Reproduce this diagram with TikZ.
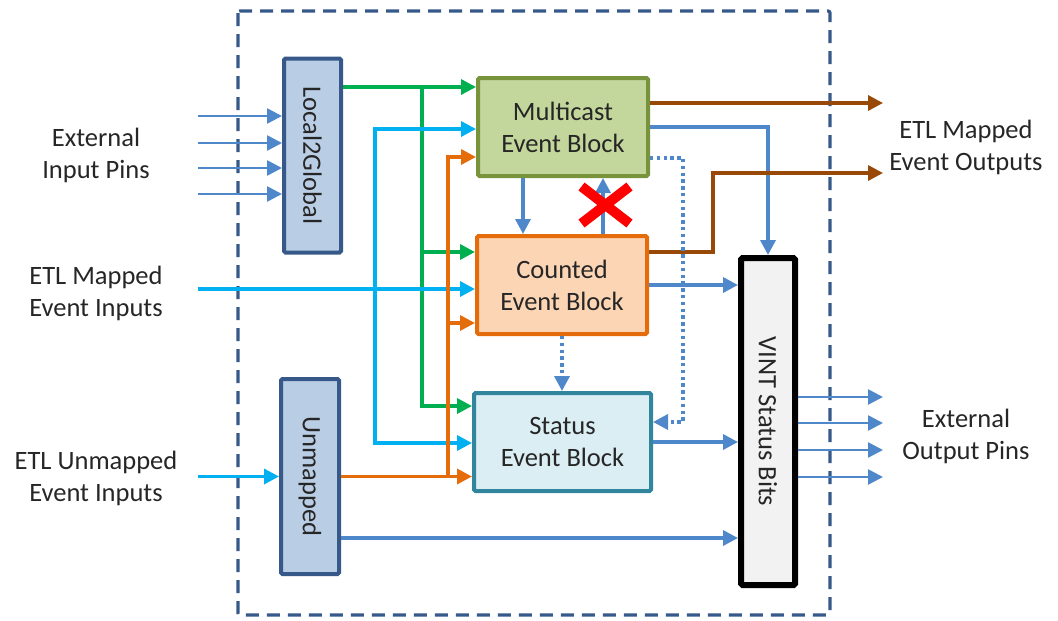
\documentclass[tikz,border=0pt]{standalone}
\usepackage{fontspec}
\setmainfont{Carlito}
\usetikzlibrary{arrows.meta}
\definecolor{framecol}{HTML}{36598A}
\definecolor{barfill}{HTML}{B9CDE5}
\definecolor{mcfill}{HTML}{C3D69B}
\definecolor{mcdraw}{HTML}{77933C}
\definecolor{ctfill}{HTML}{FCD5B5}
\definecolor{ctdraw}{HTML}{E46C0A}
\definecolor{stfill}{HTML}{DBEEF4}
\definecolor{stdraw}{HTML}{31859C}
\definecolor{vintfill}{HTML}{F2F2F2}
\definecolor{linkblue}{HTML}{4F87CB}
\definecolor{linkcyan}{HTML}{00B0F0}
\definecolor{linkgreen}{HTML}{00B050}
\definecolor{linkorange}{HTML}{E46C0A}
\definecolor{linkbrown}{HTML}{984807}
\tikzset{box/.style={draw,line width=4pt,rounded corners=1.5pt,align=center,inner sep=0pt,
		text=black!85,font=\fontsize{26.5}{32}\selectfont},
	event box/.style={box,minimum width=170pt,minimum height=98pt},
	bar box/.style={box,draw=framecol,fill=barfill,minimum width=57pt,minimum height=194pt},
	link/.style={line width=3.4pt,-{Triangle[length=15pt,width=15pt]}},
	pinarrow/.style={link,line width=2.6pt,linkblue},
	dotlink/.style={link,linkblue,dash pattern=on 3.4pt off 3.4pt},
	sidetext/.style={align=center,text=black!85,font=\fontsize{26.5}{32}\selectfont},
	outline/.style={framecol,line width=3.2pt,dash pattern=on 13pt off 8pt,rounded corners=2pt}}
\begin{document}
\begin{tikzpicture}[x=1pt,y=-1pt]
	\useasboundingbox (0,0) rectangle (1058,621);
	\draw[outline] (238,11) rectangle (830,615);
	\node[bar box] (ltog) at (312.5,155.5) {\rotatebox{-90}{Local2Global}};
	\node[bar box,minimum width=58pt,minimum height=195pt] (unmap) at (310,476.5) {\rotatebox{-90}{Unmapped}};
	\node[event box,draw=mcdraw,fill=mcfill] (mcast) at (563,127) {Multicast\\Event Block};
	\node[event box,draw=ctdraw,fill=ctfill] (count) at (562,285) {Counted\\Event Block};
	\node[event box,draw=stdraw,fill=stfill,minimum width=177pt] (stat) at (562.5,442) {Status\\Event Block};
	\node[box,line width=6pt,fill=vintfill,minimum width=54pt,minimum height=327pt] (vint) at (768,421.5) {\rotatebox{-90}{VINT Status Bits}};
	\node[sidetext] (inpins) at (96,155) {External\\Input Pins};
	\node[sidetext] (mapin) at (96,293.5) {ETL Mapped\\Event Inputs};
	\node[sidetext] (unmapin) at (96,478.5) {ETL Unmapped\\Event Inputs};
	\node[sidetext] (mapout) at (966,147) {ETL Mapped\\Event Outputs};
	\node[sidetext] (outpins) at (966,436.5) {External\\Output Pins};
	\coordinate (inL) at (198,0);
	\coordinate (outR) at (883,0);
	\foreach \dy [count=\i] in {39.5,12.5,-12.5,-38.5}{
		\coordinate (in\i) at ([yshift=\dy pt]ltog.west);
		\draw[pinarrow] (in\i -| inL) -- (in\i);
	}
	\foreach \dy [count=\i] in {24.5,-1.5,-28.5,-55.5}{
		\coordinate (out\i) at ([yshift=\dy pt]vint.east);
		\draw[pinarrow] (out\i) -- (out\i -| outR);
	}
	\coordinate (gtop) at (422,87);
	\draw[link,linkgreen] (ltog.east |- gtop) -- (gtop -| mcast.west);
	\draw[link,linkgreen] (gtop) |- ([yshift=33pt]count.west);
	\draw[link,linkgreen] (gtop) |- ([yshift=36pt]stat.west);
	\coordinate (cin) at (198,289);
	\coordinate (cbus) at (375,289);
	\draw[link,linkcyan] (cin) -- (cin -| count.west);
	\draw[link,linkcyan] (cbus) |- ([yshift=-2pt]mcast.west);
	\draw[link,linkcyan] (cbus) |- ([yshift=-1pt]stat.west);
	\draw[link,linkcyan] (unmap.west -| inL) -- (unmap.west);
	\coordinate (obus) at (448,477);
	\draw[link,linkorange] (unmap.east) -- (unmap.east -| stat.west);
	\draw[link,linkorange] (obus) |- ([yshift=-30pt]mcast.west);
	\draw[link,linkorange] (obus) |- ([yshift=-38pt]count.west);
	\coordinate (ub) at ([yshift=-61.5pt]unmap.east);
	\draw[link,linkblue] (ub) -- (ub -| vint.west);
	\draw[link,linkblue] (stat.east) -- (stat.east -| vint.west);
	\draw[link,linkblue] (count.east) -- (count.east -| vint.west);
	\draw[link,linkblue] (mcast.east) -| (vint.north);
	\coordinate (m1) at ([xshift=-40pt]mcast.south);
	\draw[link,linkblue] (m1) -- (m1 |- count.north);
	\coordinate (c1) at ([xshift=41pt]count.north);
	\draw[link,linkblue] (c1) -- (c1 |- mcast.south);
	\coordinate (bo1) at ([yshift=24pt]mcast.east);
	\draw[link,linkbrown] (bo1) -- (bo1 -| outR);
	\coordinate (bo2) at ([yshift=33pt]count.east);
	\coordinate (bk) at (713,173);
	\draw[link,linkbrown] (bo2) -| (bk) -- (bk -| outR);
	\coordinate (d1) at ([yshift=-31pt]mcast.east);
	\coordinate (d2) at ([yshift=20pt]stat.east);
	\coordinate (dx) at (683,290);
	\draw[dotlink] (d1) -| (dx) |- (d2);
	\draw[dotlink] (count.south) -- (count.south |- stat.north);
	\coordinate (xc) at (605.5,205);
	\draw[red,line width=10pt] (xc) ++(-24,-18.5) -- ++(48,37) (xc) ++(-24,18.5) -- ++(48,-37);
\end{tikzpicture}
\end{document}
